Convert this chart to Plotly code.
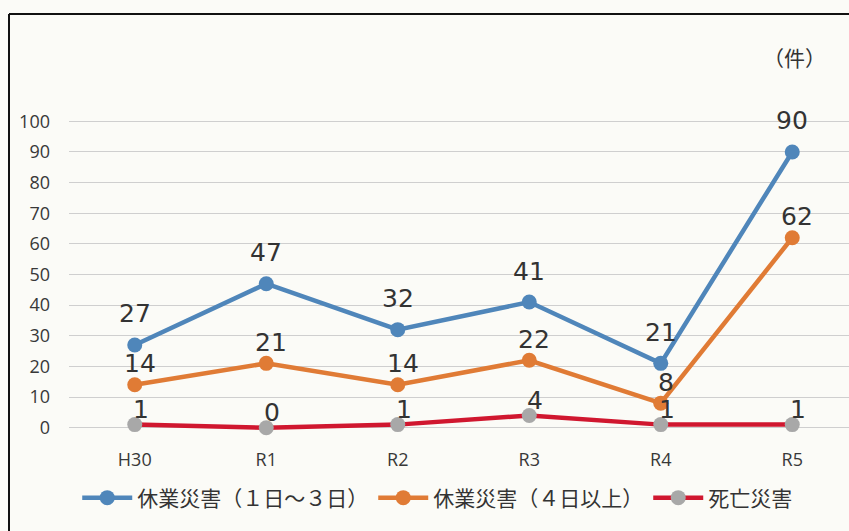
import plotly.graph_objects as go

categories = ["H30", "R1", "R2", "R3", "R4", "R5"]
kyugyo_1_3 = [27, 47, 32, 41, 21, 90]
kyugyo_4plus = [14, 21, 14, 22, 8, 62]
shibo = [1, 0, 1, 4, 1, 1]
y_ticks = list(range(0, 101, 10))

BLUE = "#4f86ba"
ORANGE = "#e07b35"
RED = "#d0172f"
GRAY = "#a8a8a8"
BG = "#fbfbf7"

fig = go.Figure()
fig.add_trace(go.Scatter(x=categories, y=kyugyo_1_3, mode="lines+markers",
                         name="休業災害（１日～３日）",
                         line=dict(color=BLUE, width=4.5),
                         marker=dict(color=BLUE, size=15), cliponaxis=False))
fig.add_trace(go.Scatter(x=categories, y=kyugyo_4plus, mode="lines+markers",
                         name="休業災害（４日以上）",
                         line=dict(color=ORANGE, width=4.5),
                         marker=dict(color=ORANGE, size=15), cliponaxis=False))
fig.add_trace(go.Scatter(x=categories, y=shibo, mode="lines+markers",
                         name="死亡災害",
                         line=dict(color=RED, width=4.5),
                         marker=dict(color=GRAY, size=15), cliponaxis=False))

label_font = dict(family="DejaVu Sans", size=25, color="#333333")
for vals, shift, xs in [(kyugyo_1_3, 31, 0), (kyugyo_4plus, 21, 5), (shibo, 15, 6)]:
    for c, v in zip(categories, vals):
        fig.add_annotation(x=c, y=v, text=str(v), showarrow=False,
                           xref="x", yref="y", yshift=shift, xshift=xs,
                           font=label_font)

fig.add_annotation(text="（件）", xref="paper", yref="paper",
                   x=(794 - 69) / 780, y=(443 - 57) / 337,
                   xanchor="center", yanchor="middle",
                   showarrow=False, font=dict(family="Noto Sans CJK JP", size=21, color="#333333"))

# frame (top and left border of the boxed figure)
fig.add_shape(type="line", xref="paper", yref="paper",
              x0=(9 - 69) / 780, x1=(849 - 69) / 780 + 0.01,
              y0=(443 - 14) / 337, y1=(443 - 14) / 337,
              line=dict(color="#111111", width=2))
fig.add_shape(type="line", xref="paper", yref="paper",
              x0=(9 - 69) / 780, x1=(9 - 69) / 780,
              y0=(443 - 14) / 337, y1=(443 - 540) / 337,
              line=dict(color="#111111", width=2))

fig.update_layout(
    width=849, height=531,
    margin=dict(l=69, r=0, t=106, b=88),
    paper_bgcolor=BG, plot_bgcolor=BG,
    showlegend=True,
    legend=dict(orientation="h", xref="container", yref="container",
                x=0.515, xanchor="center", y=1 - 498 / 531, yanchor="middle",
                font=dict(family="Noto Sans CJK JP", size=21, color="#333333"),
                bgcolor="rgba(0,0,0,0)", itemwidth=50, tracegroupgap=0),
    font=dict(family="Open Sans", color="#404040"),
)
fig.update_xaxes(type="category", range=[-0.5, 780 / 131.5 - 0.5],
                 showgrid=False, zeroline=False, showline=False,
                 tickfont=dict(family="Open Sans", size=18, color="#383838"),
                 ticklabelstandoff=4)
fig.update_yaxes(range=[-5, 105], tickvals=y_ticks, ticktext=[str(t) for t in y_ticks],
                 showgrid=True, gridcolor="#cfcfcf", gridwidth=1,
                 zeroline=False, showline=False,
                 tickfont=dict(family="Open Sans", size=18, color="#383838"),
                 ticklabelstandoff=18)

fig.write_html("out.html", config={"displayModeBar": False},
               post_script="document.body.style.margin='0';document.body.style.background='" + BG + "';")
